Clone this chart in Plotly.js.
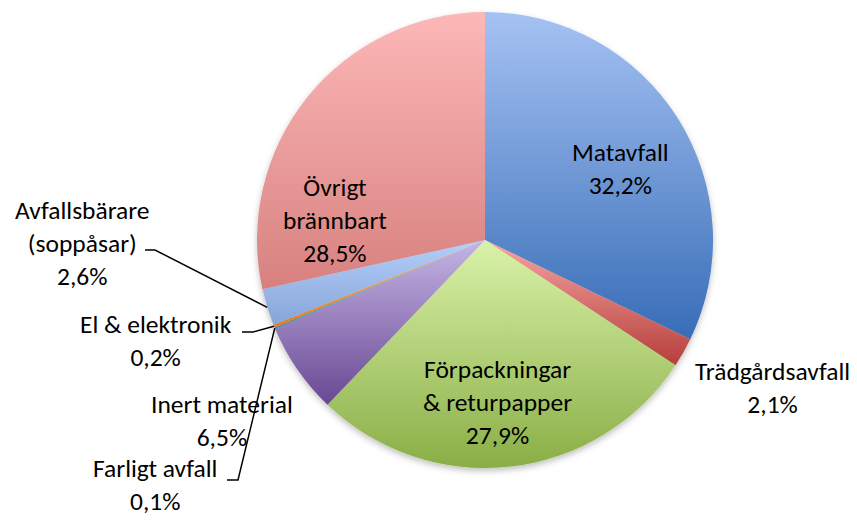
<!DOCTYPE html>
<html><head><meta charset="utf-8">
<script src="https://cdn.plot.ly/plotly-3.0.1.min.js"></script>
<style>html,body{margin:0;padding:0;background:#fff}#chart{width:857px;height:520px}</style>
</head><body><div id="chart"></div>
<script>
// ---- data ----
const categories = ["Matavfall","Trädgårdsavfall","Förpackningar & returpapper","Inert material","Farligt avfall","El & elektronik","Avfallsbärare (soppåsar)","Övrigt brännbart"];
const shares = [32.2, 2.1, 27.9, 6.5, 0.1, 0.2, 2.6, 28.5];
const shareText = ["32,2%","2,1%","27,9%","6,5%","0,1%","0,2%","2,6%","28,5%"];
const labelLines = [["Matavfall"],["Trädgårdsavfall"],["Förpackningar","& returpapper"],["Inert material"],["Farligt avfall"],["El & elektronik"],["Avfallsbärare","(soppåsar)"],["Övrigt","brännbart"]];

// ---- styles ----
const solidColors = ["#6b93d3","#d8706d","#b3d47a","#9b84c0","#4bacc6","#f79646","#9dbbea","#eba0a0"];
const gradTop =    ["#a6c2f3","#f6a5a3","#d9f2a9","#c5b5e5","#6cc4dc","#fbb37a","#b4cffa","#fcb8b7"];
const gradBottom = ["#376db7","#b63e3b","#8aae46","#684893","#2f8aa3","#e07b28","#86a5d8","#d7817f"];

const W = 857, H = 520;
const dom = {x:[0.2999, 0.8320], y:[0.1, 0.9769]};
const cx = (dom.x[0]+dom.x[1])/2*W;
const cy = (1-(dom.y[0]+dom.y[1])/2)*H;
const R = Math.min((dom.x[1]-dom.x[0])*W, (dom.y[1]-dom.y[0])*H)/2;
const px = x => x/W, py = y => 1-y/H;

// label placement (pixel centers) and leader lines
const labelPos = [[620,169],[772,388],[497,402],[222,421],[155,485],[156,341],[82,243],[335,220]];
const leader = {6:[145,155,250], 5:[242,253,332], 4:[227,238,480]}; // [x0,x1,y] horizontal stub

const total = shares.reduce((a,b)=>a+b,0);
const cum = []; let acc = 0;
shares.forEach(v=>{cum.push(acc); acc+=v;});
function edgePoint(i){
  const mid = (cum[i]+shares[i]/2)/total*2*Math.PI;
  return [cx + R*Math.sin(mid), cy - R*Math.cos(mid)];
}

const fontFam = "Carlito, Lato, sans-serif";
const annotations = categories.map((c,i)=>({
  xref:'paper', yref:'paper', x:px(labelPos[i][0]), y:py(labelPos[i][1]),
  xanchor:'center', yanchor:'middle', showarrow:false, align:'center', borderpad:0,
  text: labelLines[i].concat([shareText[i]]).join('<br>'),
  font:{family:fontFam, size:25.5, color:'#000'}
}));

const shapes = Object.keys(leader).map(k=>{
  const i = +k, [x0,x1,y] = leader[k], [ex,ey] = edgePoint(i);
  return {type:'path', xref:'paper', yref:'paper',
    path:`M ${px(x0)} ${py(y)} L ${px(x1)} ${py(y)} L ${px(ex)} ${py(ey)}`,
    line:{color:'#000', width:1.5}};
});

const trace = {
  type:'pie', labels:categories, values:shares, sort:false, direction:'clockwise', rotation:0,
  textinfo:'none', hoverinfo:'label+percent', domain:dom, automargin:false,
  marker:{colors:solidColors, line:{width:0}}
};
const layout = {
  width:W, height:H, margin:{l:0,r:0,t:0,b:0}, showlegend:false,
  paper_bgcolor:'#fff', annotations, shapes
};
Plotly.newPlot('chart',[trace],layout,{displayModeBar:false,staticPlot:true}).then(gd=>{
  const svg = gd.querySelector('svg.main-svg');
  const NS = 'http://www.w3.org/2000/svg';
  let defs = svg.querySelector('defs');
  if(!defs){defs = document.createElementNS(NS,'defs'); svg.insertBefore(defs, svg.firstChild);}
  const toRgb = h => { const n=parseInt(h.slice(1),16); return `rgb(${n>>16}, ${(n>>8)&255}, ${n&255})`; };
  solidColors.forEach((c,i)=>{
    const g = document.createElementNS(NS,'linearGradient');
    g.setAttribute('id','sg'+i); g.setAttribute('x1','0'); g.setAttribute('y1','0'); g.setAttribute('x2','0'); g.setAttribute('y2','1');
    [[0,gradTop[i]],[1,gradBottom[i]]].forEach(([o,col])=>{
      const s = document.createElementNS(NS,'stop'); s.setAttribute('offset',o); s.setAttribute('stop-color',col); g.appendChild(s);
    });
    defs.appendChild(g);
  });
  const f = document.createElementNS(NS,'filter');
  f.setAttribute('id','pieShadow'); f.setAttribute('x','-10%'); f.setAttribute('y','-10%'); f.setAttribute('width','120%'); f.setAttribute('height','125%');
  f.innerHTML = '<feDropShadow dx="0" dy="3" stdDeviation="3" flood-color="#000" flood-opacity="0.25"/>';
  defs.appendChild(f);
  gd.querySelectorAll('g.slice path.surface').forEach(p=>{
    const fill = p.style.fill.replace(/\s+/g,'');
    const idx = solidColors.findIndex(c=>toRgb(c).replace(/\s+/g,'')===fill);
    if(idx>=0) p.style.fill = `url(#sg${idx})`;
  });
  const tr = gd.querySelector('g.pielayer g.trace');
  if(tr) tr.setAttribute('filter','url(#pieShadow)');
});
</script>
</body></html>
